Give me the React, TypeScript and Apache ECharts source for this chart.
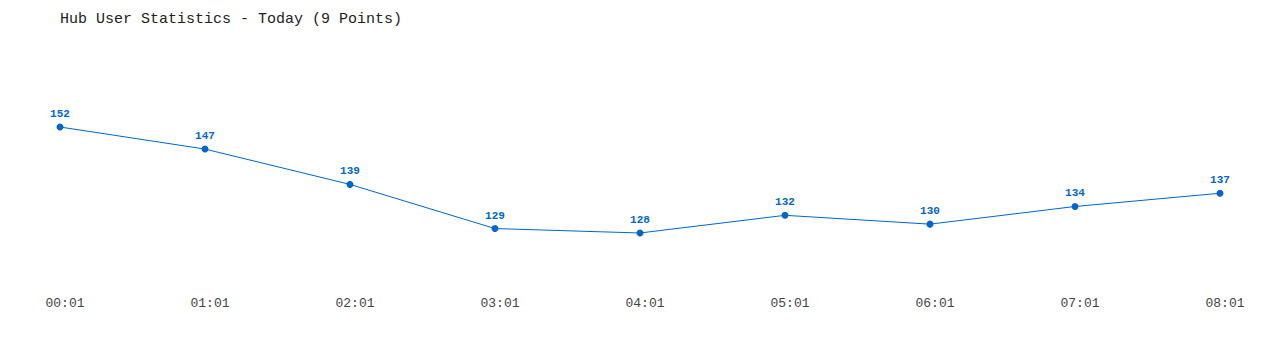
import React, { useEffect, useRef } from "react";
import * as echarts from "echarts";

const titleText = "Hub User Statistics - Today (9 Points)";
const categories = ["00:01", "01:01", "02:01", "03:01", "04:01", "05:01", "06:01", "07:01", "08:01"];
const users = [152, 147, 139, 129, 128, 132, 130, 134, 137];

export default function App() {
  const ref = useRef<HTMLDivElement>(null);
  useEffect(() => {
    if (!ref.current) return;
    const chart = echarts.init(ref.current, null, { renderer: "svg" });
    chart.setOption({
      animation: false,
      backgroundColor: "#ffffff",
      title: {
        text: titleText,
        left: 55,
        top: 7,
        textStyle: {
          fontFamily: "Liberation Mono, DejaVu Sans Mono, monospace",
          fontSize: 15,
          fontWeight: "normal",
          color: "#222222",
        },
      },
      grid: { left: 60, right: 60, top: 47.5, bottom: 59.6 },
      xAxis: {
        type: "category",
        data: categories,
        boundaryGap: false,
        axisLine: { show: false },
        axisTick: { show: false },
        splitLine: { show: false },
        axisLabel: {
          margin: 7,
          padding: [0, 0, 0, 10],
          fontFamily: "Liberation Mono, DejaVu Sans Mono, monospace",
          fontSize: 13,
          color: "#444444",
          interval: 0,
        },
      },
      yAxis: {
        type: "value",
        min: 115,
        max: 170,
        show: false,
      },
      series: [
        {
          type: "line",
          data: users,
          symbol: "circle",
          symbolSize: 7,
          itemStyle: { color: "#0066cc" },
          lineStyle: { color: "#0066cc", width: 1 },
          label: {
            show: true,
            position: "top",
            distance: 4,
            fontFamily: "Liberation Mono, DejaVu Sans Mono, monospace",
            fontSize: 11,
            fontWeight: "bold",
            color: "#0066cc",
          },
        },
      ],
    });
    return () => chart.dispose();
  }, []);
  return <div ref={ref} style={{ width: 1280, height: 350, position: "absolute", left: 0, top: 0 }} />;
}
